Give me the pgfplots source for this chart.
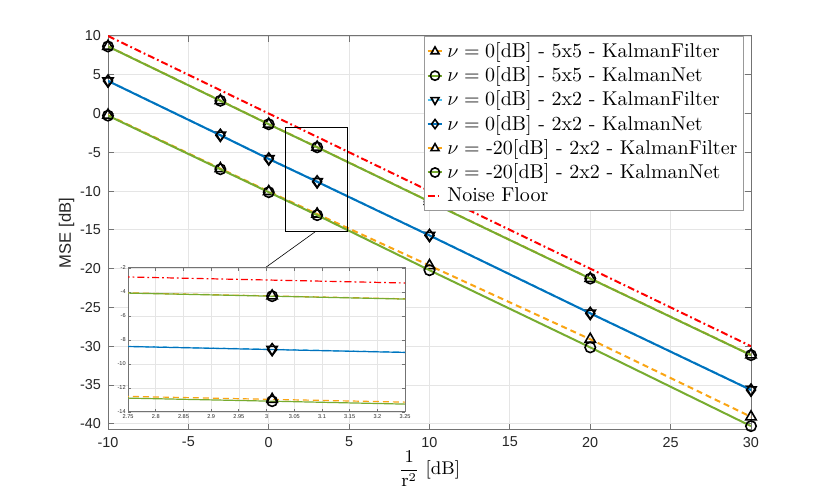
\documentclass[border=0pt]{standalone}
\usepackage{pgfplots}
\pgfplotsset{compat=1.18}
\usepackage{pgfplotstable}
\usepackage{fontspec}
\newfontfamily\hv{Liberation Sans}
\definecolor{mOrange}{RGB}{250,165,20}
\definecolor{mGreen}{RGB}{119,172,48}
\definecolor{mBlue}{RGB}{0,114,189}
\definecolor{mLBlue}{RGB}{77,190,238}
\definecolor{mRed}{RGB}{255,0,0}
\pgfplotstableread{
x KFfive KNfive KFtwo KNtwo KFtw KNtw NF
-10 8.67 8.65 4.22 4.20 -0.20 -0.27 10
-3.01 1.67 1.65 -2.78 -2.80 -7.10 -7.18 3.01
0 -1.36 -1.38 -5.83 -5.85 -10.05 -10.14 0
3.01 -4.33 -4.35 -8.78 -8.80 -12.95 -13.10 -3.01
10 -11.33 -11.35 -15.70 -15.72 -19.60 -20.20 -10
20 -21.26 -21.28 -25.74 -25.76 -29.10 -30.15 -20
30 -31.12 -31.15 -35.62 -35.65 -39.10 -40.30 -30
}\datatab
\pgfplotsset{
  mk/.style={mark options={solid,draw=black,fill=none,line width=0.8pt}},
  kf5/.style={mOrange,dash pattern=on 3pt off 2pt,line width=1pt,mark=triangle,mark size=3pt,mk},
  kn5/.style={mGreen,solid,line width=1pt,mark=o,mark size=2.6pt,mk},
  kf2/.style={mLBlue,dash pattern=on 3pt off 2pt,line width=1pt,mark=triangle,mark size=3pt,mark options={solid,draw=black,fill=none,line width=0.8pt,rotate=180}},
  kn2/.style={mBlue,solid,line width=1pt,mark=diamond,mark size=3pt,mk},
  nf/.style={mRed,dash pattern=on 3.5pt off 1.5pt on 0.9pt off 1.5pt,line width=1pt},
}
\begin{document}
\begin{tikzpicture}
\path[use as bounding box] (0,0) rectangle (415pt,245.5pt);
\begin{axis}[
  at={(54pt,30.5pt)}, anchor=south west,
  scale only axis, width=321.5pt, height=197pt,
  xmin=-10, xmax=30, ymin=-40.8, ymax=10,
  xtick={-10,-5,...,30}, ytick={-40,-35,...,10},
  grid=major, major grid style={black!10, line width=0.4pt},
  axis line style={black!55, line width=0.5pt},
  tick style={black!55, line width=0.5pt}, major tick length=3pt,
  tick label style={font=\hv\fontsize{7.2}{8}\selectfont, text=black!85},
  /pgf/number format/assume math mode=true,
  ylabel={MSE [dB]}, ylabel style={font=\hv\fontsize{8.3}{9}\selectfont, text=black!85},
  ylabel shift=-4pt,
  xlabel={${\displaystyle\frac{1}{\mathrm{r}^2}}$ [dB]},
  xlabel style={font=\fontsize{9.2}{11}\selectfont, at={(rel axis cs:0.5,0)}, anchor=center, yshift=-19.5pt},
  clip mode=individual,
  legend style={at={(rel axis cs:1,1)}, xshift=-3.5pt, anchor=north east, draw=black!40, line width=0.5pt,
    font=\fontsize{10}{12}\selectfont, inner sep=1pt, row sep=-0.9pt, cells={anchor=west}},
  legend image code/.code={\draw[mark repeat=2,mark phase=2,mark size=2.3pt] plot coordinates {(0cm,0cm)(0.13cm,0cm)(0.26cm,0cm)};},
]
\addplot[kf5] table[x=x,y=KFfive]{\datatab};
\addlegendentry{$\nu=0$[dB] - 5x5 - KalmanFilter}
\addplot[kn5] table[x=x,y=KNfive]{\datatab};
\addlegendentry{$\nu=0$[dB] - 5x5 - KalmanNet}
\addplot[kf2] table[x=x,y=KFtwo]{\datatab};
\addlegendentry{$\nu=0$[dB] - 2x2 - KalmanFilter}
\addplot[kn2] table[x=x,y=KNtwo]{\datatab};
\addlegendentry{$\nu=0$[dB] - 2x2 - KalmanNet}
\addplot[kf5] table[x=x,y=KFtw]{\datatab};
\addlegendentry{$\nu=$ -20[dB] - 2x2 - KalmanFilter}
\addplot[kn5] table[x=x,y=KNtw]{\datatab};
\addlegendentry{$\nu=$ -20[dB] - 2x2 - KalmanNet}
\addplot[nf] table[x=x,y=NF]{\datatab};
\addlegendentry{Noise Floor}
\draw[black, line width=0.5pt] (axis cs:1.07,-1.86) rectangle (axis cs:4.87,-15.26);
\draw[black, line width=0.3pt] (axis cs:2.88,-15.26) -- (axis cs:-0.23,-19.9);
\end{axis}
\begin{axis}[
  at={(64pt,39.5pt)}, anchor=south west,
  scale only axis, width=138.5pt, height=72pt,
  xmin=2.75, xmax=3.25, ymin=-14, ymax=-2,
  xtick={2.75,2.8,2.85,2.9,2.95,3,3.05,3.1,3.15,3.2,3.25},
  ytick={-14,-12,-10,-8,-6,-4,-2},
  axis background/.style={fill=white},
  grid=major, major grid style={black!10, line width=0.3pt},
  axis line style={black!55, line width=0.5pt},
  tick style={black!55, line width=0.4pt}, major tick length=1.5pt,
  tick label style={font=\hv\fontsize{2.8}{3}\selectfont, text=black!85, inner sep=1pt},
  /pgf/number format/assume math mode=true,
]
\addplot[kf5, line width=0.6pt] table[x=x,y=KFfive]{\datatab};
\addplot[kn5, line width=0.6pt] table[x=x,y=KNfive]{\datatab};
\addplot[kf2, line width=0.6pt] table[x=x,y=KFtwo]{\datatab};
\addplot[kn2, line width=0.6pt] table[x=x,y=KNtwo]{\datatab};
\addplot[kf5, line width=0.6pt] table[x=x,y=KFtw]{\datatab};
\addplot[kn5, line width=0.6pt] table[x=x,y=KNtw]{\datatab};
\addplot[nf, line width=0.6pt] table[x=x,y=NF]{\datatab};
\end{axis}
\end{tikzpicture}
\end{document}
